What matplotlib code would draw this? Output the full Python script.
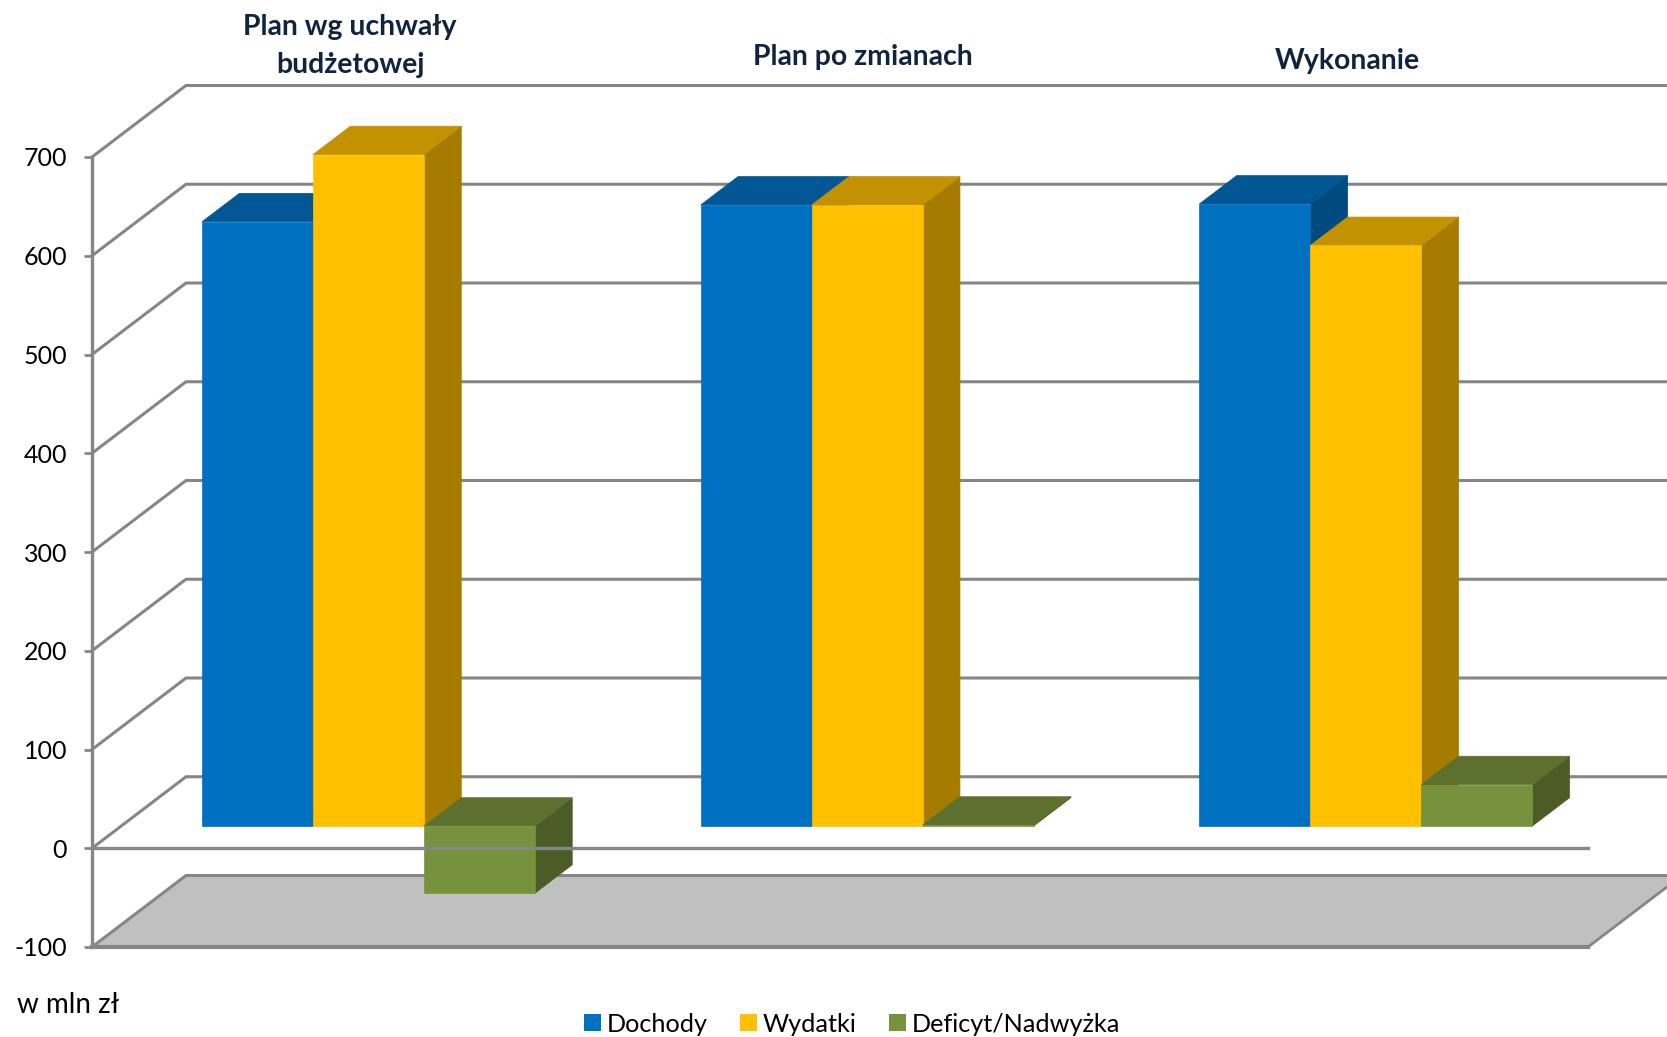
import matplotlib
matplotlib.use('Agg')
import matplotlib.pyplot as plt
from matplotlib.patches import Patch, Polygon

plt.rcParams['font.family'] = ['Lato', 'DejaVu Sans']
plt.rcParams['axes.unicode_minus'] = False

# Values in mln zl
categories = ['Plan wg uchwały\nbudżetowej', 'Plan po zmianach', 'Wykonanie']
dochody = [612, 629, 630]
wydatki = [680, 629, 588]
deficyt = [-68, 1, 42]
series_names = ['Dochody', 'Wydatki', 'Deficyt/Nadwyżka']
y_ticks = [-100, 0, 100, 200, 300, 400, 500, 600, 700]

W, H = 1667, 1037
GREY = '#868686'
TITLE_COLOR = '#0F243E'
# front, top, side colours for each series
COLORS = [('#0070C0', '#005794', '#004A7F'),
          ('#FFC000', '#C29200', '#A67C00'),
          ('#76923C', '#5E702E', '#4C5C26')]

# Fake 3D: full depth of the box, in x (categories) and y (values) units
AX_LEFT, AX_RIGHT, AX_TOP, AX_BOTTOM = 92, 1588, 157, 947
DEPTH_X = 94 / ((AX_RIGHT - AX_LEFT) / 3)
DEPTH_Y = 71.5 / ((AX_BOTTOM - AX_TOP) / 800)
BAR_FRONT, BAR_BACK = 0.31, 0.707
BAR_WIDTH = 0.2225
BAR_SHIFT = -0.004


def project(x, y, d):
    return (x + d * DEPTH_X, y + d * DEPTH_Y)


def box(ax, left, val, colors):
    """Draw one 3D column from zero to val, left is its front left corner."""
    right = left + BAR_WIDTH
    lo, hi = min(0, val), max(0, val)
    side = [project(right, lo, BAR_FRONT), project(right, hi, BAR_FRONT),
            project(right, hi, BAR_BACK), project(right, lo, BAR_BACK)]
    top = [project(left, hi, BAR_FRONT), project(right, hi, BAR_FRONT),
           project(right, hi, BAR_BACK), project(left, hi, BAR_BACK)]
    front = [project(left, lo, BAR_FRONT), project(right, lo, BAR_FRONT),
             project(right, hi, BAR_FRONT), project(left, hi, BAR_FRONT)]
    for pts, color in ((side, colors[2]), (top, colors[1]), (front, colors[0])):
        ax.add_patch(Polygon(pts, closed=True, facecolor=color, edgecolor=color,
                             linewidth=0.5, zorder=3, clip_on=False))


fig = plt.figure(figsize=(W / 100, H / 100), dpi=100)
ax = fig.add_axes([AX_LEFT / W, 1 - AX_BOTTOM / H,
                   (AX_RIGHT - AX_LEFT) / W, (AX_BOTTOM - AX_TOP) / H])
ax.set_xlim(0, 3)
ax.set_ylim(y_ticks[0], y_ticks[-1])

# Floor
floor = [project(0, y_ticks[0], 0), project(3, y_ticks[0], 0),
         project(3, y_ticks[0], 1), project(0, y_ticks[0], 1)]
ax.add_patch(Polygon(floor, closed=True, facecolor='#C0C0C0', edgecolor='none',
                     zorder=1, clip_on=False))

# Gridlines on the left and back walls
for t in y_ticks:
    xs, ys = zip(project(0, t, 0), project(0, t, 1), project(3, t, 1))
    ax.plot(xs, ys, color=GREY, lw=2.2, zorder=2, clip_on=False,
            solid_joinstyle='miter')

# Right edge of the floor
xs, ys = zip(project(3, y_ticks[0], 0), project(3, y_ticks[0], 1))
ax.plot(xs, ys, color=GREY, lw=2, zorder=2, clip_on=False)

# Columns, left to right so that the later ones cover the earlier ones
for i in range(len(categories)):
    vals = [dochody[i], wydatki[i], deficyt[i]]
    for j, val in enumerate(vals):
        left = i + 0.5 - 1.5 * BAR_WIDTH + j * BAR_WIDTH + BAR_SHIFT
        box(ax, left, val, COLORS[j])

# Front edges: zero line and bottom of the box go over the columns
ax.plot([0, 3], [0, 0], color=GREY, lw=2.4, zorder=4, clip_on=False)
ax.plot([0, 3], [y_ticks[0], y_ticks[0]], color=GREY, lw=3, zorder=4, clip_on=False)

# Axes
for s in ['top', 'right', 'bottom']:
    ax.spines[s].set_visible(False)
ax.spines['left'].set_color(GREY)
ax.spines['left'].set_linewidth(2.4)
ax.spines['left'].set_zorder(5)
ax.set_xticks([])
ax.set_yticks(y_ticks)
ax.tick_params(axis='y', length=6, width=2, color=GREY, pad=12, labelsize=18,
               labelcolor='black')
ax.patch.set_visible(False)

# Category titles sit above the chart
title_pos = [(350, 46), (863, 57), (1347, 61)]
for name, (px, py) in zip(categories, title_pos):
    fig.text(px / W, 1 - py / H, name, ha='center', va='center', fontsize=20.4,
             fontweight='bold', color=TITLE_COLOR, linespacing=1.55)

fig.text(17 / W, 1 - 1005 / H, 'w mln zł', ha='left', va='center', fontsize=20)

handles = [Patch(facecolor=c[0], edgecolor='none') for c in COLORS]
fig.legend(handles, series_names, loc='center', bbox_to_anchor=(852 / W, 1 - 1024 / H),
           ncol=3, frameon=False, fontsize=18.2, handlelength=0.67, handleheight=0.67,
           handletextpad=0.25, columnspacing=1.26, borderpad=0, borderaxespad=0)

fig.savefig('out.png', dpi=100)
plt.close(fig)
